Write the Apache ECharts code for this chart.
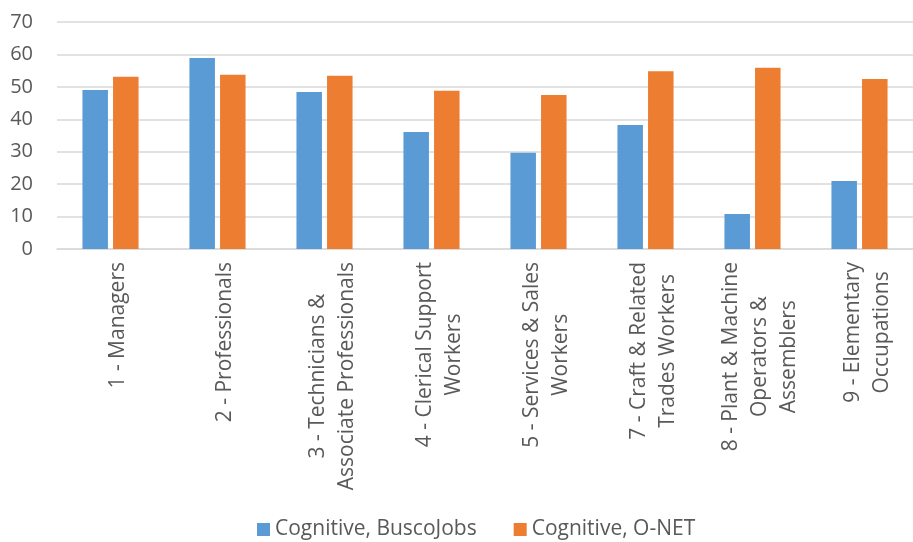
<!DOCTYPE html>
<html><head><meta charset="utf-8">
<script src="https://cdn.jsdelivr.net/npm/echarts@6/dist/echarts.min.js"></script>
<style>html,body{margin:0;padding:0;background:#fff}#c{width:913px;height:542px}</style>
</head><body><div id="c"></div>
<script>
const categories = [
  "1 - Managers",
  "2 - Professionals",
  "3 - Technicians &\nAssociate Professionals",
  "4 - Clerical Support\nWorkers",
  "5 - Services & Sales\nWorkers",
  "7 - Craft & Related\nTrades Workers",
  "8 - Plant & Machine\nOperators &\nAssemblers",
  "9 - Elementary\nOccupations"
];
const seriesNames = ["Cognitive, BuscoJobs", "Cognitive, O-NET"];
const buscoJobs = [49.0, 58.9, 48.4, 36.1, 29.7, 38.2, 10.8, 21.0];
const onet = [53.1, 53.7, 53.4, 48.8, 47.5, 54.8, 55.9, 52.4];

const chart = echarts.init(document.getElementById('c'));
const font = "'Open Sans', 'DejaVu Sans', sans-serif";
chart.setOption({
  animation: false,
  grid: {left: 57, width: 867, top: 22, bottom: 293},
  legend: {
    top: 514, left: 252, itemWidth: 13, itemHeight: 13, itemGap: 37,
    icon: 'rect',
    textStyle: {fontFamily: font, fontSize: 21, color: '#595959'},
    data: seriesNames
  },
  xAxis: {
    type: 'category', data: categories,
    axisLine: {lineStyle: {color: '#D9D9D9', width: 1.5}},
    axisTick: {show: false},
    axisLabel: {rotate: 90, interval: 0, margin: 13, fontFamily: font, fontSize: 21,
      color: '#595959', lineHeight: 29, align: 'right', verticalAlign: 'middle',
      padding: [16, 0, 0, 0],
      formatter: v => v.split('\n').map(l => '{c|' + l + '}').join('\n'),
      rich: {c: {align: 'center', fontFamily: font, fontSize: 21, lineHeight: 29, color: '#595959'}}
    }
  },
  yAxis: {
    type: 'value', min: 0, max: 70, interval: 10,
    axisLine: {show: false}, axisTick: {show: false},
    splitLine: {lineStyle: {color: '#D9D9D9', width: 1.5}},
    axisLabel: {fontFamily: font, fontSize: 20, color: '#595959', margin: 24}
  },
  series: [
    {name: seriesNames[0], type: 'bar', data: buscoJobs, itemStyle: {color: '#5B9BD5'},
     barWidth: 25.5, barGap: '20%'},
    {name: seriesNames[1], type: 'bar', data: onet, itemStyle: {color: '#ED7D31'},
     barWidth: 25.5, barGap: '20%'}
  ]
});
</script></body></html>
